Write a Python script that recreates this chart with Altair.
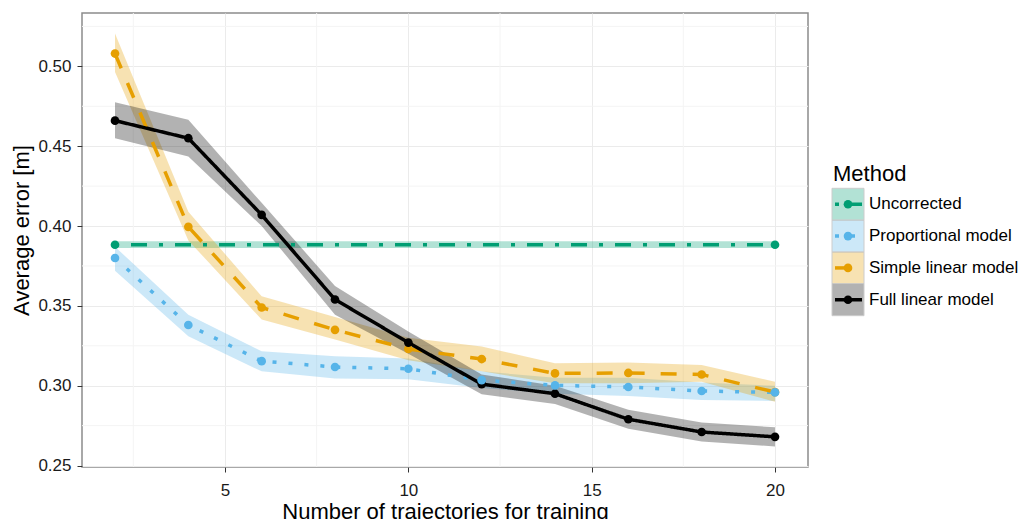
import altair as alt
import pandas as pd

methods = ["Uncorrected", "Proportional model", "Simple linear model", "Full linear model"]
colors = ["#009E73", "#56B4E9", "#E69F00", "#000000"]
dashes = [[4, 12, 16, 12], [4, 12], [16, 16], [1, 0]]
draw_order = [0, 3, 1, 2]

n_train = [2, 4, 6, 8, 10, 12, 14, 16, 18, 20]

uncorr_x = [2, 20]
uncorr = [0.3883, 0.3883]
uncorr_lo = [0.3862, 0.3862]
uncorr_hi = [0.3905, 0.3905]

prop = [0.380, 0.338, 0.3154, 0.3117, 0.3106, 0.3035, 0.3002, 0.2992, 0.2967, 0.2958]
prop_lo = [0.372, 0.331, 0.309, 0.3045, 0.304, 0.2985, 0.295, 0.2935, 0.291, 0.2905]
prop_hi = [0.387, 0.3445, 0.3216, 0.3185, 0.317, 0.309, 0.305, 0.305, 0.302, 0.300]

simple = [0.508, 0.3995, 0.349, 0.335, 0.323, 0.3167, 0.3077, 0.308, 0.307, 0.296]
simple_lo = [0.4965, 0.391, 0.3414, 0.329, 0.316, 0.309, 0.3015, 0.3015, 0.3025, 0.290]
simple_hi = [0.5205, 0.409, 0.356, 0.343, 0.330, 0.3245, 0.314, 0.3145, 0.313, 0.3025]

full = [0.466, 0.455, 0.407, 0.354, 0.327, 0.301, 0.295, 0.279, 0.271, 0.268]
full_lo = [0.455, 0.4435, 0.400, 0.3445, 0.320, 0.2947, 0.2885, 0.273, 0.265, 0.262]
full_hi = [0.4775, 0.4665, 0.4145, 0.3625, 0.334, 0.307, 0.300, 0.285, 0.277, 0.274]

x_ticks = [5, 10, 15, 20]
x_minor = [2.5, 7.5, 12.5, 17.5]
y_ticks = [0.25, 0.30, 0.35, 0.40, 0.45, 0.50]
y_minor = [0.275, 0.325, 0.375, 0.425, 0.475, 0.525]

series = [
    (methods[0], uncorr_x, uncorr, uncorr_lo, uncorr_hi),
    (methods[1], n_train, prop, prop_lo, prop_hi),
    (methods[2], n_train, simple, simple_lo, simple_hi),
    (methods[3], n_train, full, full_lo, full_hi),
]
rows = []
for i, (m, xs, ys, los, his) in enumerate(series):
    for x, y, lo, hi in zip(xs, ys, los, his):
        rows.append({"Method": m, "n": x, "err": y, "lo": lo, "hi": hi, "ord": draw_order[i]})
df = pd.DataFrame(rows)

FONT = "Liberation Sans"

x_axis = alt.Axis(values=x_ticks, title="Number of trajectories for training",
                  labelPadding=10, titleY=51, titleBaseline="alphabetic", labelFlush=False)
y_axis = alt.Axis(values=y_ticks, format=".2f", title="Average error [m]",
                  labelPadding=6, titleX=-54, titleY=217, titleBaseline="alphabetic")
x_scale = alt.Scale(domain=[1.1, 20.9], nice=False, zero=False)
y_scale = alt.Scale(domain=[0.2491, 0.5334], nice=False, zero=False)

X = alt.X("n:Q", scale=x_scale, axis=x_axis)
Y = alt.Y("err:Q", scale=y_scale, axis=y_axis)
color = alt.Color("Method:N", scale=alt.Scale(domain=methods, range=colors), legend=None)
dash = alt.StrokeDash("Method:N", scale=alt.Scale(domain=methods, range=dashes), legend=None)

gx = alt.Chart(pd.DataFrame({"n": x_minor})).mark_rule(color="#F4F4F4", strokeWidth=1).encode(x=X)
gy = alt.Chart(pd.DataFrame({"err": y_minor})).mark_rule(color="#F4F4F4", strokeWidth=1).encode(y=Y)

base = alt.Chart(df)
ribbons = base.mark_area(opacity=0.3).encode(
    x=X, y=alt.Y("lo:Q", scale=y_scale, axis=y_axis), y2="hi:Q", color=color
)
lines = base.mark_line(strokeWidth=3.5).encode(x=X, y=Y, color=color, strokeDash=dash)
points = base.mark_circle(size=75, opacity=1).encode(x=X, y=Y, color=color, order=alt.Order("ord:Q"))

main = alt.layer(gx, gy, ribbons, lines, points)

leg = pd.DataFrame({"Method": methods})
LY = alt.Y("Method:N", scale=alt.Scale(type="band", domain=methods, range=[175.3, 302.7],
                                        paddingInner=0, paddingOuter=0), axis=None)
lbase = alt.Chart(leg)
l_rect = lbase.mark_rect(fillOpacity=0.3, stroke="#CCCCCC", strokeWidth=1).encode(
    y=LY, x=alt.value(750), x2=alt.value(782), color=color
)
l_line = lbase.mark_rule(strokeWidth=3.5).encode(
    y=LY, x=alt.value(753), x2=alt.value(780), color=color, strokeDash=dash
)
l_pt = lbase.mark_circle(size=75, opacity=1).encode(y=LY, x=alt.value(766), color=color)
l_txt = lbase.mark_text(align="left", baseline="middle", fontSize=17, font=FONT, color="#000000").encode(
    y=LY, x=alt.value(787), text="Method:N"
)
l_title = alt.Chart(pd.DataFrame({"t": ["Method"]})).mark_text(
    align="left", baseline="middle", fontSize=22, font=FONT, color="#000000"
).encode(x=alt.value(751), y=alt.value(161), text="t:N")

legend = alt.layer(l_rect, l_line, l_pt, l_txt, l_title)

chart = alt.layer(main, legend).resolve_scale(y="independent").properties(
    width=726, height=454,
    padding={"left": 82, "top": 13, "right": 214, "bottom": 52},
    autosize=alt.AutoSizeParams(type="none"),
).configure(font=FONT).configure_view(
    stroke="#8C8C8C", strokeWidth=1.5
).configure_axis(
    domain=False, tickColor="#333333", tickSize=5, tickWidth=1,
    labelFontSize=17, labelColor="#1A1A1A", labelFont=FONT,
    titleFontSize=22, titleFontWeight="normal", titleColor="#000000", titleFont=FONT,
    gridColor="#EBEBEB", gridWidth=1,
)

chart.save("out.html", embed_options={"renderer": "svg", "actions": False})
